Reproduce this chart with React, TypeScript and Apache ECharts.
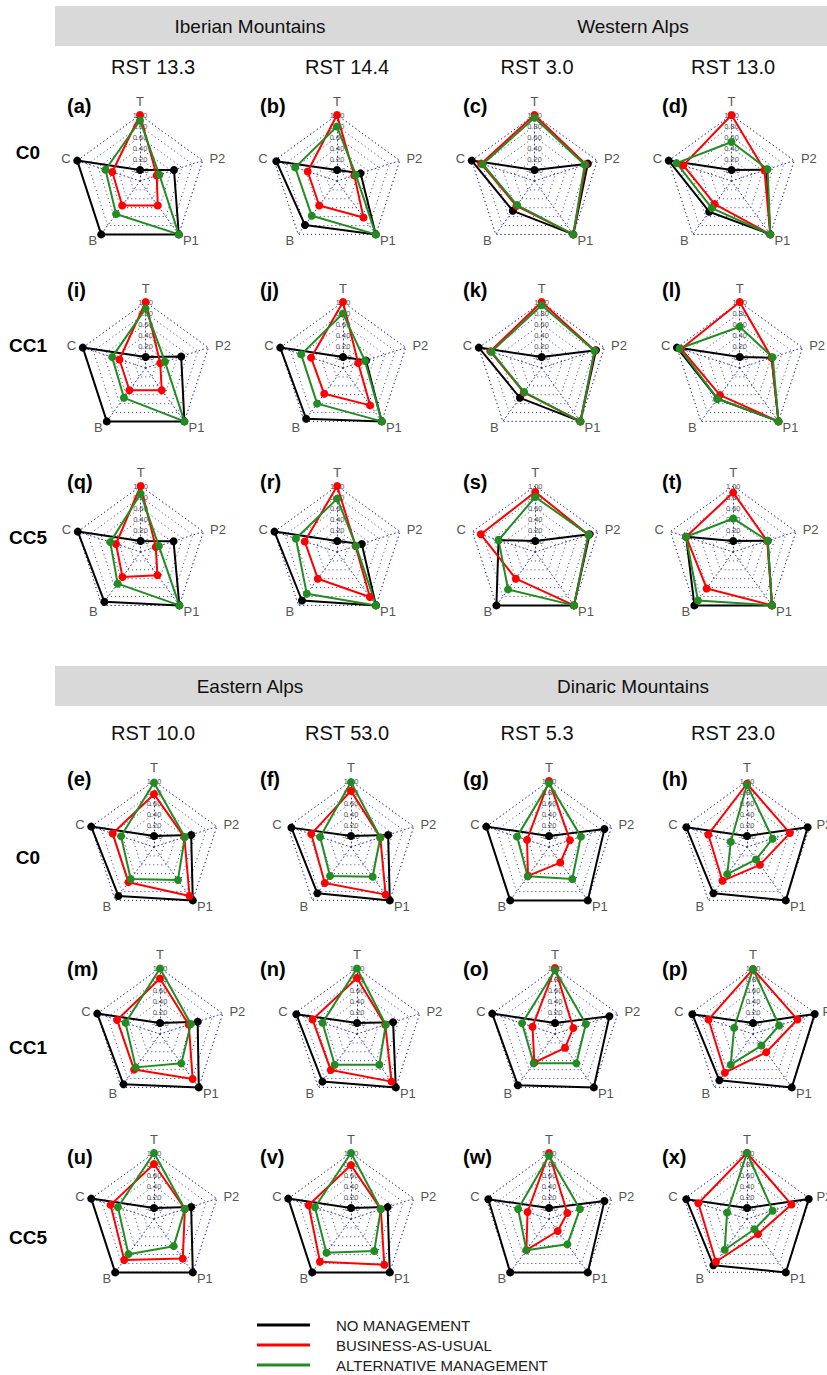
import { useEffect, useRef } from 'react';
import * as echarts from 'echarts';

// ---------- categories ----------
// Indicator order as ECharts places them (counter-clockwise from the top)
const AXES = ['T', 'C', 'B', 'P1', 'P2'];
const SCENARIOS = ['NO MANAGEMENT', 'BUSINESS-AS-USUAL', 'ALTERNATIVE MANAGEMENT'];
const REGIONS = ['Iberian Mountains', 'Western Alps', 'Eastern Alps', 'Dinaric Mountains'];
const RST_LABELS = ['RST 13.3', 'RST 14.4', 'RST 3.0', 'RST 13.0', 'RST 10.0', 'RST 53.0', 'RST 5.3', 'RST 23.0'];
const CLIMATES = ['C0', 'CC1', 'CC5', 'C0', 'CC1', 'CC5'];
const PANEL_LETTERS = ['a', 'b', 'c', 'd', 'i', 'j', 'k', 'l', 'q', 'r', 's', 't',
  'e', 'f', 'g', 'h', 'm', 'n', 'o', 'p', 'u', 'v', 'w', 'x'];
const AXIS_MIN = -0.2;
const AXIS_MAX = 1;

// ---------- values (per panel, in AXES order: T, C, B, P1, P2) ----------
const NO_MANAGEMENT = [
  [0, 1, 1, 1, 0.45],        // a
  [0, 0.96, 0.79, 1, 0.25],  // b
  [0, 1, 0.47, 1, 0.82],     // c
  [0, 1, 0.49, 1, 0.47],     // d
  [0, 1, 1, 1, 0.48],        // i
  [0, 1, 0.94, 1, 0.24],     // j
  [0, 1, 0.47, 1, 0.84],     // k
  [0, 1, 0.49, 1, 0.41],     // l
  [0, 1, 0.92, 1, 0.43],     // q
  [0, 1, 0.89, 1, 0.27],     // r
  [0, 0.5, 1, 1, 0.84],      // s
  [0, 0.7, 1, 1, 0.46],      // t
  [0, 1, 0.9, 1, 0.51],      // e
  [0, 0.94, 0.84, 1, 0.51],  // f
  [0, 1, 1, 1, 0.86],        // g
  [0, 0.96, 0.84, 1, 0.96],  // h
  [0, 1, 0.93, 1, 0.52],     // m
  [0, 0.96, 0.87, 1, 0.49],  // n
  [0, 1, 0.95, 1, 0.84],     // o
  [0, 0.96, 0.84, 1, 0.98],  // p
  [0, 1, 1, 1, 0.51],        // u
  [0, 1, 1, 1, 0.5],         // v
  [0, 0.96, 1, 1, 0.86],     // w
  [0, 0.96, 0.84, 1, 0.98],  // x
];

const BUSINESS_AS_USUAL = [
  [1, 0.33, 0.35, 0.35, 0.12],   // a
  [1, 0.36, 0.35, 0.62, 0.13],   // b
  [1, 0.82, 0.36, 1, 0.78],      // c
  [1, 0.72, 0.32, 1, 0.43],      // d
  [1, 0.3, 0.3, 0.3, 0.08],      // i
  [1, 0.41, 0.38, 0.64, 0.09],   // j
  [1, 0.78, 0.35, 1, 0.82],      // k
  [1, 0.92, 0.41, 1, 0.41],      // l
  [1, 0.27, 0.36, 0.32, 0.09],   // q
  [1, 0.42, 0.4, 0.81, 0.15],    // r
  [0.89, 0.84, 0.4, 1, 0.82],    // s
  [0.88, 0.7, 0.62, 1, 0.45],    // t
  [0.76, 0.59, 0.59, 0.9, 0.38], // e
  [0.82, 0.56, 0.61, 0.87, 0.36],// f
  [1, 0.22, 0.45, 0.15, 0.2],    // g
  [0.95, 0.54, 0.56, 0.2, 0.62], // h
  [0.81, 0.62, 0.6, 0.81, 0.35], // m
  [0.82, 0.65, 0.61, 0.87, 0.34],// n
  [1, 0.23, 0.44, 0.11, 0.15],   // o
  [0.98, 0.65, 0.67, 0.21, 0.65],// p
  [0.8, 0.63, 0.72, 0.69, 0.39], // u
  [0.78, 0.61, 0.76, 0.83, 0.37],// v
  [1, 0.21, 0.5, 0.07, 0.15],    // w
  [1, 0.73, 0.76, 0.14, 0.65],   // x
];

const ALTERNATIVE_MANAGEMENT = [
  [0.9, 0.46, 0.54, 1, 0.17],    // a
  [0.79, 0.6, 0.58, 1, 0.16],    // b
  [0.95, 0.79, 0.34, 1, 0.76],   // c
  [0.51, 0.85, 0.41, 1, 0.49],   // d
  [0.88, 0.44, 0.47, 1, 0.17],   // i
  [0.79, 0.6, 0.6, 1, 0.22],     // j
  [0.94, 0.76, 0.34, 1, 0.81],   // k
  [0.55, 0.95, 0.49, 1, 0.43],   // l
  [0.86, 0.38, 0.51, 1, 0.15],   // q
  [0.77, 0.59, 0.74, 1, 0.16],   // r
  [0.8, 0.5, 0.64, 1, 0.82],     // s
  [0.41, 0.7, 0.89, 1, 0.46],    // t
  [0.97, 0.43, 0.52, 0.54, 0.39],// e
  [0.98, 0.39, 0.45, 0.47, 0.36],// f
  [0.96, 0.41, 0.46, 0.52, 0.41],// g
  [0.93, 0.11, 0.41, 0.08, 0.29],// h
  [0.99, 0.46, 0.55, 0.46, 0.39],// m
  [0.99, 0.46, 0.49, 0.49, 0.35],// n
  [0.96, 0.43, 0.46, 0.46, 0.39],// o
  [0.98, 0.16, 0.49, 0.06, 0.3], // p
  [1, 0.49, 0.59, 0.41, 0.39],   // u
  [1, 0.49, 0.56, 0.52, 0.37],   // v
  [0.95, 0.39, 0.5, 0.37, 0.39], // w
  [1, 0.18, 0.49, 0.03, 0.29],   // x
];

// ---------- layout & style ----------
const FONT = "'Liberation Sans', Arial, Helvetica, sans-serif";
const SCENARIO_COLORS = ['#000000', '#ff0000', '#228b22'];
const GRID_COLOR = '#3a3aa8';
const ROW_CY = [181, 368, 552, 847, 1034, 1219];
const ROW_CX = [
  [140, 337, 534.5, 731.5],
  [145.6, 343, 541.6, 739.7],
  [140.6, 337.2, 535.2, 733.2],
  [154, 351, 549, 747],
  [160, 357, 555, 753],
  [154, 351, 549, 747],
];
const RADIUS = 66;
const LETTER_X = [67, 260, 463, 662];
const LETTER_Y = [106, 290, 482, 779, 969, 1157];
const CLIMATE_Y = [152, 345, 537, 857, 1047, 1237];
const HEADER_Y = [6, 666];
const RST_X = [153, 347, 537, 733];
const RST_Y = [67, 733];
const REGION_X = [250, 633];
const LEGEND_TOP = [1312, 1332, 1352];

function buildOption() {
  const radar: any[] = [];
  const series: any[] = [];
  const valueSets = [NO_MANAGEMENT, BUSINESS_AS_USUAL, ALTERNATIVE_MANAGEMENT];

  PANEL_LETTERS.forEach((_, p) => {
    const row = Math.floor(p / 4);
    const col = p % 4;
    radar.push({
      center: [ROW_CX[row][col], ROW_CY[row]],
      radius: RADIUS,
      startAngle: 90,
      splitNumber: 6,
      shape: 'polygon',
      nameGap: 7,
      axisName: { color: '#555', fontSize: 13, fontFamily: FONT },
      indicator: AXES.map((name, k) =>
        k === 0
          ? {
              name,
              min: AXIS_MIN,
              max: AXIS_MAX,
              axisLabel: {
                show: true,
                fontSize: 7.5,
                color: '#555',
                fontFamily: FONT,
                margin: 0,
                align: 'center',
                verticalAlign: 'middle',
                formatter: (v: number) => (v < -0.001 ? '' : v.toFixed(2)),
              },
            }
          : { name, min: AXIS_MIN, max: AXIS_MAX }
      ),
      axisLabel: { show: false },
      axisTick: { show: false },
      axisLine: { lineStyle: { color: GRID_COLOR, width: 1, type: [1, 3] } },
      splitLine: { lineStyle: { color: GRID_COLOR, width: 1, type: [1, 3] } },
      splitArea: { show: false },
    });
    series.push({
      type: 'radar',
      radarIndex: p,
      symbol: 'circle',
      symbolSize: 8,
      silent: true,
      data: valueSets.map((set, s) => ({
        name: SCENARIOS[s],
        value: set[p],
        lineStyle: { color: SCENARIO_COLORS[s], width: 2 },
        itemStyle: { color: SCENARIO_COLORS[s] },
      })),
    });
  });

  const graphic: any[] = [];
  HEADER_Y.forEach((y, b) => {
    graphic.push({
      type: 'rect',
      shape: { x: 55, y, width: 772, height: 40 },
      style: { fill: '#d9d9d9' },
      silent: true,
    });
    [0, 1].forEach((k) => {
      graphic.push({
        type: 'text',
        x: REGION_X[k],
        y: y + 20,
        style: {
          text: REGIONS[b * 2 + k],
          font: `19px ${FONT}`,
          fill: '#111',
          align: 'center',
          verticalAlign: 'middle',
          textAlign: 'center',
          textVerticalAlign: 'middle',
        },
      });
    });
    RST_X.forEach((x, k) => {
      graphic.push({
        type: 'text',
        x,
        y: RST_Y[b],
        style: {
          text: RST_LABELS[b * 4 + k],
          font: `20px ${FONT}`,
          fill: '#111',
          align: 'center',
          verticalAlign: 'middle',
          textAlign: 'center',
          textVerticalAlign: 'middle',
        },
      });
    });
  });
  CLIMATES.forEach((c, r) => {
    graphic.push({
      type: 'text',
      x: 28,
      y: CLIMATE_Y[r],
      style: {
        text: c,
        font: `bold 19px ${FONT}`,
        fill: '#000',
        align: 'center',
        verticalAlign: 'middle',
        textAlign: 'center',
        textVerticalAlign: 'middle',
      },
    });
  });
  PANEL_LETTERS.forEach((l, p) => {
    graphic.push({
      type: 'text',
      x: LETTER_X[p % 4],
      y: LETTER_Y[Math.floor(p / 4)],
      style: {
        text: `(${l})`,
        font: `bold 20px ${FONT}`,
        fill: '#000',
        align: 'left',
        verticalAlign: 'middle',
        textAlign: 'left',
        textVerticalAlign: 'middle',
      },
    });
  });

  const legend = SCENARIOS.map((name, i) => ({
    data: [name],
    orient: 'vertical',
    left: 252,
    top: LEGEND_TOP[i],
    icon: 'rect',
    itemWidth: 53,
    itemHeight: 3,
    selectedMode: false,
    textStyle: {
      fontSize: 15,
      color: '#222',
      fontFamily: FONT,
      lineHeight: 16,
      padding: [0, 0, 0, 21],
    },
  }));

  return {
    animation: false,
    backgroundColor: '#ffffff',
    radar,
    series,
    graphic,
    legend,
  };
}

export default function App() {
  const ref = useRef<HTMLDivElement>(null);
  useEffect(() => {
    if (!ref.current) return;
    const chart = echarts.init(ref.current, undefined, { renderer: 'svg' });
    chart.setOption(buildOption() as any);
    return () => chart.dispose();
  }, []);
  return (
    <div
      ref={ref}
      style={{ position: 'absolute', left: 0, top: 0, width: 827, height: 1375, background: '#fff' }}
    />
  );
}
